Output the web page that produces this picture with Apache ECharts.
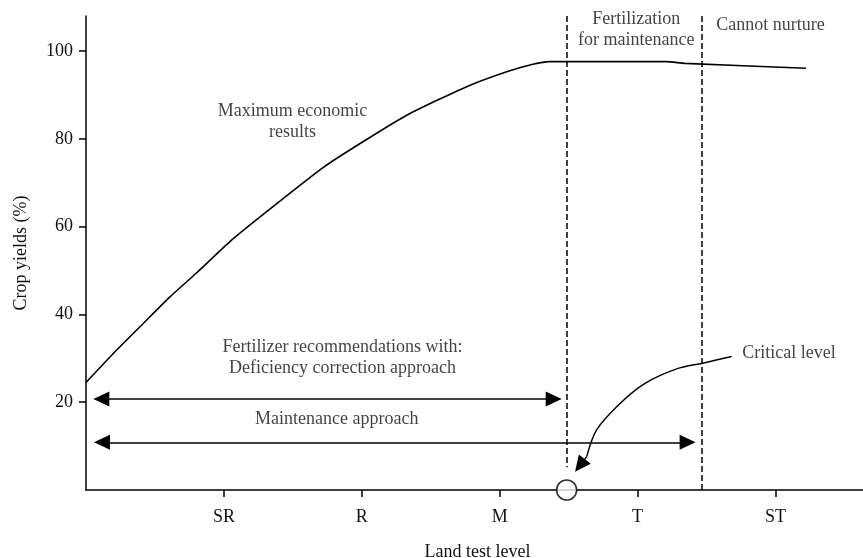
<!DOCTYPE html>
<html>
<head>
<meta charset="utf-8">
<script src="https://cdn.jsdelivr.net/npm/echarts@6/dist/echarts.min.js"></script>
<style>html,body{margin:0;padding:0;background:#fff}#c{width:863px;height:558px}</style>
</head>
<body>
<div id="c"></div>
<script>
// Category tick labels on the land-test axis (positions 1..5)
const categories = ['SR', 'R', 'M', 'T', 'ST'];
const yTicks = [20, 40, 60, 80, 100];

// Yield response curve [land test level, crop yield %]
const yieldCurve = [
  [0, 24.5], [0.198, 31.1], [0.392, 37.2], [0.609, 44.0], [0.803, 49.5],
  [1.044, 56.6], [1.310, 63.4], [1.721, 73.5], [2.011, 79.4], [2.326, 85.4],
  [2.761, 91.9], [3.051, 95.3], [3.241, 97.0], [3.360, 97.6], [4.211, 97.6],
  [4.344, 97.2], [5.221, 96.1]
];

// Boundaries (critical level and upper limit of maintenance)
const criticalX = 3.486;
const upperX = 4.469;

// Approach ranges [y, xStart, xEnd]
const deficiencyArrow = [20.73, 0.111, 3.392];
const maintenanceArrow = [10.87, 0.116, 4.363];

// Leader line to the critical level marker
const criticalLeader = [
  [4.682, 30.4], [4.472, 28.9], [4.284, 27.6], [4.054, 24.3],
  [3.873, 19.7], [3.703, 13.7], [3.631, 7.6]
];
const criticalLeaderTip = [3.582, 5.6];

// Annotation texts [x, y, text]
const annotations = [
  [1.497, 84.0, 'Maximum economic\nresults'],
  [3.990, 104.8, 'Fertilization\nfor maintenance'],
  [4.964, 105.9, 'Cannot nurture'],
  [1.860, 30.1, 'Fertilizer recommendations with:\nDeficiency correction approach'],
  [1.818, 16.1, 'Maintenance approach'],
  [5.099, 31.1, 'Critical level']
];

const FONT = '"Liberation Serif", "Times New Roman", serif';
const TXT = '#111';

const chart = echarts.init(document.getElementById('c'), null, {renderer: 'canvas'});
chart.setOption({
  animation: false,
  backgroundColor: '#fff',
  grid: {left: 86, right: 0, top: 16, bottom: 68, outerBoundsMode: 'none', containLabel: false},
  xAxis: {
    type: 'value', min: 0, max: 5.635, interval: 1,
    name: 'Land test level', nameLocation: 'middle', nameGap: 53,
    nameTextStyle: {fontFamily: FONT, fontSize: 18, color: TXT, padding: [0, 0, 0, 6]},
    axisLine: {show: true, lineStyle: {color: '#000', width: 1.5}},
    axisTick: {show: true, length: 7, lineStyle: {color: '#000', width: 1.5}, customValues: [1, 2, 3, 4, 5]},
    axisLabel: {
      customValues: [1, 2, 3, 4, 5], margin: 18,
      fontFamily: FONT, fontSize: 18, color: TXT,
      formatter: v => categories[Math.round(v) - 1] || ''
    },
    splitLine: {show: false}
  },
  yAxis: {
    type: 'value', min: 0, max: 108, interval: 20,
    name: 'Crop yields (%)', nameLocation: 'middle', nameGap: 56, nameRotate: 90,
    nameTextStyle: {fontFamily: FONT, fontSize: 18, color: TXT},
    axisLine: {show: true, lineStyle: {color: '#000', width: 1.5}},
    axisTick: {show: true, length: 7, lineStyle: {color: '#000', width: 1.5}, customValues: yTicks},
    axisLabel: {customValues: yTicks, margin: 13, fontFamily: FONT, fontSize: 18, color: TXT},
    splitLine: {show: false}
  },
  series: [
    {
      name: 'yield', type: 'line', data: yieldCurve, smooth: 0.2,
      showSymbol: false, symbol: 'none', lineStyle: {color: '#000', width: 1.6}, z: 3,
      markLine: {
        silent: true, symbol: ['none', 'none'], label: {show: false},
        lineStyle: {color: '#000', width: 1.5, type: 'dashed', dashOffset: 0},
        data: [
          [{coord: [criticalX, 108]}, {coord: [criticalX, 5.2]}],
          [{coord: [upperX, 108]}, {coord: [upperX, 0]}]
        ]
      }
    },
    {
      name: 'arrows', type: 'line', data: [], symbol: 'none',
      markLine: {
        silent: true, symbol: ['triangle', 'triangle'], symbolSize: [15, 16], label: {show: false},
        lineStyle: {color: '#000', width: 1.5, type: 'solid'},
        data: [
          [{coord: [deficiencyArrow[1], deficiencyArrow[0]]}, {coord: [deficiencyArrow[2], deficiencyArrow[0]]}],
          [{coord: [maintenanceArrow[1], maintenanceArrow[0]]}, {coord: [maintenanceArrow[2], maintenanceArrow[0]]}]
        ]
      }
    },
    {
      name: 'leader', type: 'line', data: criticalLeader, smooth: 0.3,
      showSymbol: false, symbol: 'none', lineStyle: {color: '#000', width: 1.5},
      markLine: {
        silent: true, symbol: ['none', 'triangle'], symbolSize: [15, 16], label: {show: false},
        lineStyle: {color: '#000', width: 1.5, type: 'solid'},
        data: [[{coord: criticalLeader[criticalLeader.length - 1]}, {coord: criticalLeaderTip}]]
      }
    },
    {
      name: 'critical', type: 'scatter', data: [[criticalX, 0]], symbol: 'circle', symbolSize: 20,
      clip: false, z: 10,
      itemStyle: {color: '#fff', borderColor: '#000', borderWidth: 1.6}
    },
    {
      name: 'notes', type: 'scatter', symbolSize: 0, clip: false,
      data: annotations.map(a => ({value: [a[0], a[1]], name: a[2]})),
      label: {
        show: true, position: 'inside', formatter: p => p.name,
        fontFamily: FONT, fontSize: 18, lineHeight: 21, color: TXT, align: 'center'
      }
    }
  ]
});
</script>
</body>
</html>
